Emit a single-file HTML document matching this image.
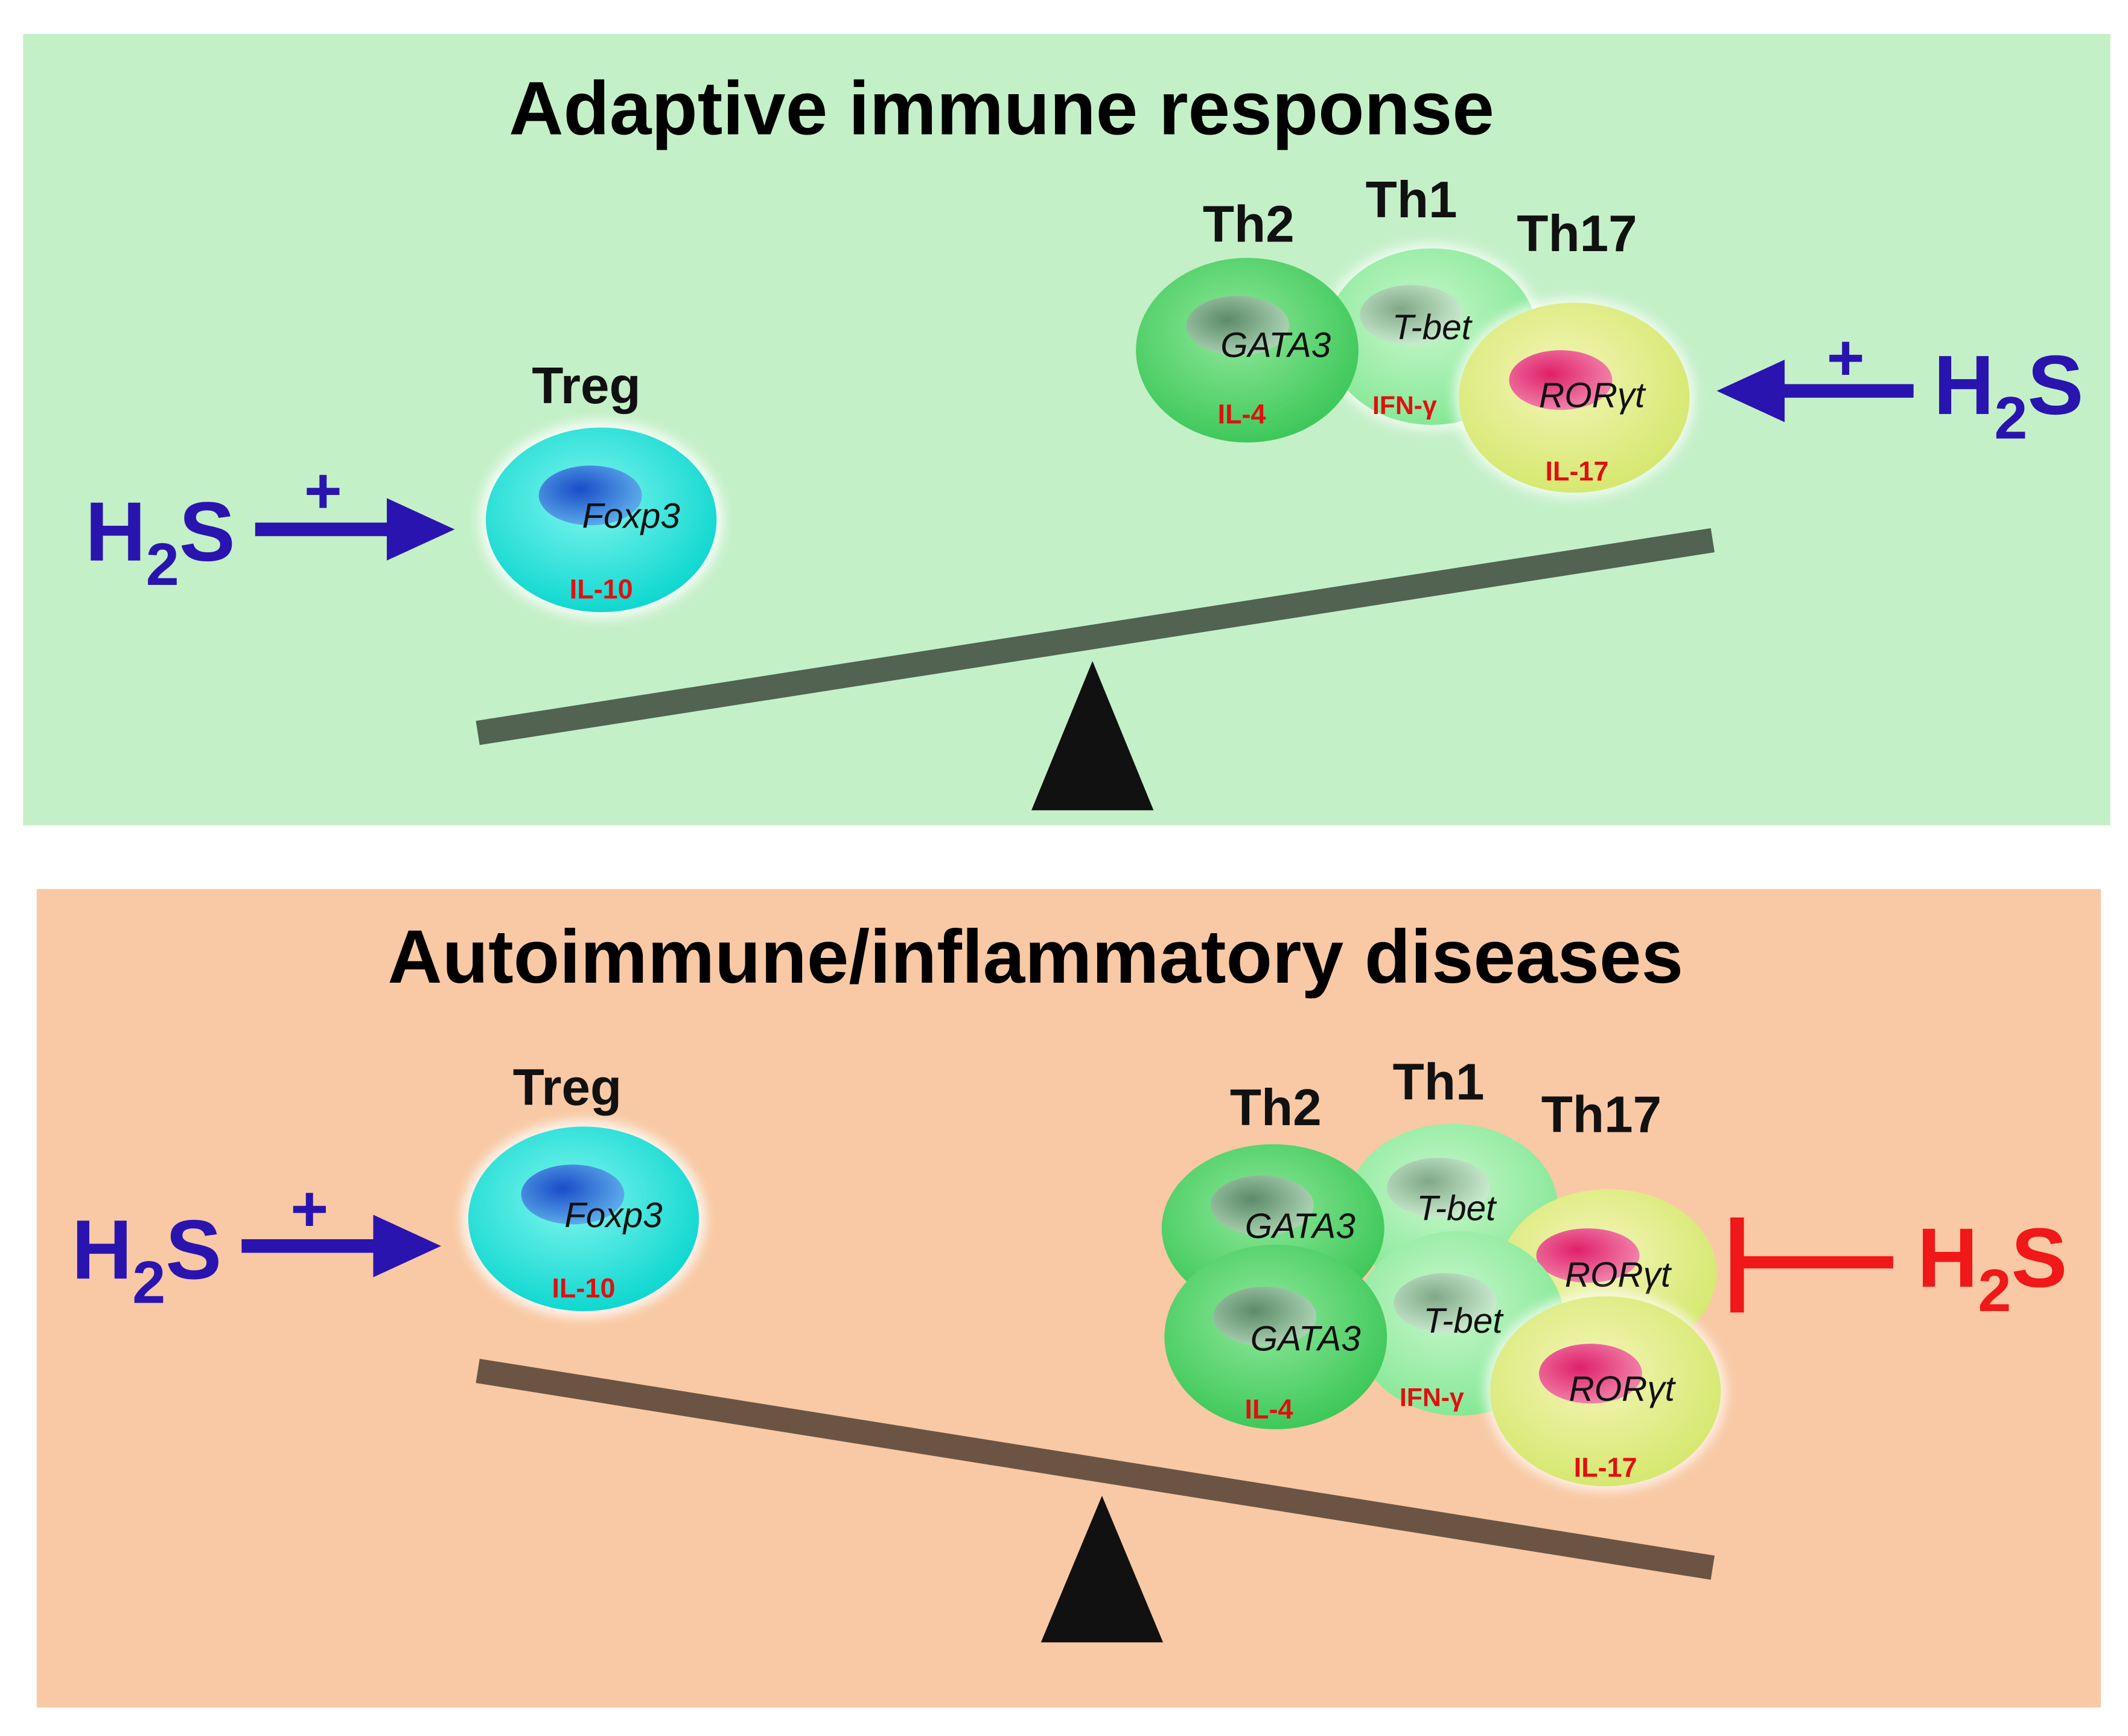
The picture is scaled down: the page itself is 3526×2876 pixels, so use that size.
<!DOCTYPE html>
<html><head><meta charset="utf-8"><style>html,body{margin:0;padding:0;background:#fff}svg{display:block}</style></head>
<body>
<svg xmlns="http://www.w3.org/2000/svg" width="3526" height="2876" viewBox="0 0 1568 1279">
<defs>
<radialGradient id="cy" cx="45%" cy="40%" r="60%"><stop offset="0" stop-color="#7ff5ee"/><stop offset="1" stop-color="#10d8d0"/></radialGradient>
<radialGradient id="gr" cx="45%" cy="40%" r="60%"><stop offset="0" stop-color="#8fe89a"/><stop offset="1" stop-color="#3fc85a"/></radialGradient>
<radialGradient id="lg" cx="45%" cy="40%" r="60%"><stop offset="0" stop-color="#c8f7cc"/><stop offset="1" stop-color="#86e896"/></radialGradient>
<radialGradient id="yg" cx="45%" cy="40%" r="60%"><stop offset="0" stop-color="#f4f5b8"/><stop offset="1" stop-color="#d6e870"/></radialGradient>
<radialGradient id="nb" cx="40%" cy="40%" r="60%"><stop offset="0" stop-color="#1a4cc8"/><stop offset="1" stop-color="#5aa8e8"/></radialGradient>
<radialGradient id="ng" cx="40%" cy="40%" r="60%"><stop offset="0" stop-color="#5c8a6a"/><stop offset="1" stop-color="#a8d0b0"/></radialGradient>
<radialGradient id="nl" cx="40%" cy="40%" r="60%"><stop offset="0" stop-color="#80a888"/><stop offset="1" stop-color="#c8e8cc"/></radialGradient>
<radialGradient id="np" cx="40%" cy="40%" r="60%"><stop offset="0" stop-color="#e0206a"/><stop offset="1" stop-color="#f080a8"/></radialGradient>
<filter id="glow" x="-20%" y="-20%" width="140%" height="140%"><feGaussianBlur stdDeviation="4"/></filter>
</defs>
<rect x="17" y="25" width="1538" height="583" fill="#c4f0c8"/>
<rect x="27" y="655" width="1521" height="603" fill="#f8c9a4"/>
<g font-family="Liberation Sans, sans-serif" font-weight="bold" text-anchor="middle">
<text x="738" y="99" font-size="55.6">Adaptive immune response</text>
<text x="763" y="724" font-size="55.6">Autoimmune/inflammatory diseases</text>
</g>
<line x1="352" y1="540" x2="1262" y2="398" stroke="#526352" stroke-width="18"/>
<polygon points="805,487 760,597 850,597" fill="#111"/>
<line x1="352" y1="1010" x2="1262" y2="1155" stroke="#6b5444" stroke-width="18"/>
<polygon points="812,1102 767,1210 857,1210" fill="#111"/>

<g font-family="Liberation Sans, sans-serif">
<ellipse cx="443" cy="383" rx="90" ry="73" fill="#fff" opacity="0.8" filter="url(#glow)"/>
<ellipse cx="443" cy="383" rx="85" ry="68" fill="url(#cy)"/>
<ellipse cx="435" cy="365" rx="38" ry="22" fill="url(#nb)"/>
<text x="465" y="389" font-size="26" font-style="italic" text-anchor="middle" fill="#111">Foxp3</text>
<text x="443" y="441" font-size="20" font-weight="bold" text-anchor="middle" fill="#e01010">IL-10</text>
<ellipse cx="430" cy="898" rx="90" ry="73" fill="#fff" opacity="0.8" filter="url(#glow)"/>
<ellipse cx="430" cy="898" rx="85" ry="68" fill="url(#cy)"/>
<ellipse cx="422" cy="880" rx="38" ry="22" fill="url(#nb)"/>
<text x="452" y="904" font-size="26" font-style="italic" text-anchor="middle" fill="#111">Foxp3</text>
<text x="430" y="956" font-size="20" font-weight="bold" text-anchor="middle" fill="#e01010">IL-10</text>

<ellipse cx="1055" cy="248" rx="82" ry="69" fill="#fff" opacity="0.7" filter="url(#glow)"/>
<ellipse cx="1055" cy="248" rx="78" ry="65" fill="url(#lg)"/>
<ellipse cx="1040" cy="232" rx="38" ry="22" fill="url(#nl)"/>
<text x="1055" y="250" font-size="26" font-style="italic" text-anchor="middle" fill="#111">T-bet</text>
<text x="1035" y="305" font-size="19" font-weight="bold" text-anchor="middle" fill="#e01010">IFN-γ</text>
<ellipse cx="919" cy="258" rx="82" ry="68" fill="url(#gr)"/>
<ellipse cx="912" cy="240" rx="38" ry="22" fill="url(#ng)"/>
<text x="940" y="263" font-size="26" font-style="italic" text-anchor="middle" fill="#111">GATA3</text>
<text x="915" y="312" font-size="20" font-weight="bold" text-anchor="middle" fill="#e01010">IL-4</text>
<ellipse cx="1160" cy="293" rx="89" ry="74" fill="#fff" opacity="0.7" filter="url(#glow)"/>
<ellipse cx="1160" cy="293" rx="85" ry="70" fill="url(#yg)"/>
<ellipse cx="1150" cy="280" rx="38" ry="22" fill="url(#np)"/>
<text x="1173" y="300" font-size="26" font-style="italic" text-anchor="middle" fill="#111">RORγt</text>
<text x="1162" y="354" font-size="20" font-weight="bold" text-anchor="middle" fill="#e01010">IL-17</text>

<ellipse cx="1070" cy="890" rx="78" ry="62" fill="url(#lg)"/>
<ellipse cx="1060" cy="875" rx="38" ry="22" fill="url(#nl)"/>
<text x="1073" y="899" font-size="26" font-style="italic" text-anchor="middle" fill="#111">T-bet</text>
<ellipse cx="938" cy="905" rx="82" ry="62" fill="url(#gr)"/>
<ellipse cx="930" cy="888" rx="38" ry="22" fill="url(#ng)"/>
<text x="958" y="912" font-size="26" font-style="italic" text-anchor="middle" fill="#111">GATA3</text>
<ellipse cx="1185" cy="938" rx="80" ry="62" fill="url(#yg)"/>
<ellipse cx="1170" cy="925" rx="38" ry="20" fill="url(#np)"/>
<text x="1192" y="948" font-size="26" font-style="italic" text-anchor="middle" fill="#111">RORγt</text>
<ellipse cx="1075" cy="975" rx="78" ry="68" fill="url(#lg)"/>
<ellipse cx="1065" cy="960" rx="38" ry="22" fill="url(#nl)"/>
<text x="1078" y="982" font-size="26" font-style="italic" text-anchor="middle" fill="#111">T-bet</text>
<text x="1055" y="1036" font-size="19" font-weight="bold" text-anchor="middle" fill="#e01010">IFN-γ</text>
<ellipse cx="940" cy="985" rx="82" ry="68" fill="url(#gr)"/>
<ellipse cx="932" cy="970" rx="38" ry="22" fill="url(#ng)"/>
<text x="962" y="995" font-size="26" font-style="italic" text-anchor="middle" fill="#111">GATA3</text>
<text x="935" y="1045" font-size="20" font-weight="bold" text-anchor="middle" fill="#e01010">IL-4</text>
<ellipse cx="1183" cy="1025" rx="89" ry="74" fill="#fff" opacity="0.7" filter="url(#glow)"/>
<ellipse cx="1183" cy="1025" rx="85" ry="70" fill="url(#yg)"/>
<ellipse cx="1172" cy="1012" rx="38" ry="22" fill="url(#np)"/>
<text x="1195" y="1032" font-size="26" font-style="italic" text-anchor="middle" fill="#111">RORγt</text>
<text x="1183" y="1088" font-size="20" font-weight="bold" text-anchor="middle" fill="#e01010">IL-17</text>
</g>

<g font-family="Liberation Sans, sans-serif" font-weight="bold" font-size="38" text-anchor="middle" fill="#111">
<text x="432" y="297">Treg</text>
<text x="920" y="178">Th2</text>
<text x="1040" y="160">Th1</text>
<text x="1162" y="185">Th17</text>
<text x="418" y="814">Treg</text>
<text x="940" y="829">Th2</text>
<text x="1060" y="810">Th1</text>
<text x="1180" y="834">Th17</text>
</g>

<g fill="#2a14b0" stroke="#2a14b0">
<line x1="188" y1="390" x2="290" y2="390" stroke-width="10"/>
<polygon points="285,367 335,390 285,413" stroke="none"/>
<line x1="178" y1="918" x2="280" y2="918" stroke-width="10"/>
<polygon points="275,895 325,918 275,941" stroke="none"/>
<line x1="1410" y1="288" x2="1310" y2="288" stroke-width="10"/>
<polygon points="1315,265 1265,288 1315,311" stroke="none"/>
</g>
<g font-family="Liberation Sans, sans-serif" font-weight="bold" fill="#2a14b0" text-anchor="middle">
<text x="238" y="378" font-size="48">+</text>
<text x="228" y="907" font-size="48">+</text>
<text x="1360" y="280" font-size="48">+</text>
<text x="118" y="413" font-size="62">H<tspan font-size="44" dy="18">2</tspan><tspan dy="-18">S</tspan></text>
<text x="108" y="942" font-size="62">H<tspan font-size="44" dy="18">2</tspan><tspan dy="-18">S</tspan></text>
<text x="1480" y="305" font-size="62">H<tspan font-size="44" dy="18">2</tspan><tspan dy="-18">S</tspan></text>
<text x="1468" y="948" font-size="62" fill="#f01818">H<tspan font-size="44" dy="18">2</tspan><tspan dy="-18">S</tspan></text>
</g>
<line x1="1280" y1="930" x2="1395" y2="930" stroke="#f01818" stroke-width="9"/>
<line x1="1280" y1="897" x2="1280" y2="967" stroke="#f01818" stroke-width="10"/>
</svg>
</body></html>
